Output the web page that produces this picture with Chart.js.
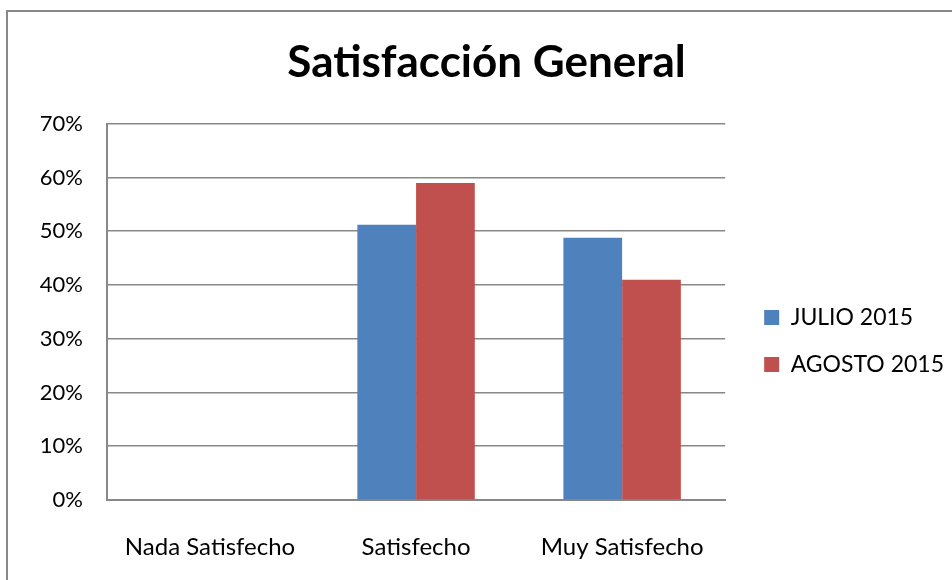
<!DOCTYPE html>
<html>
<head>
<meta charset="utf-8">
<script src="https://cdn.jsdelivr.net/npm/chart.js@4/dist/chart.umd.min.js"></script>
<style>
  html, body { margin: 0; padding: 0; background: #fff; }
  #cadre {
    position: absolute; left: 6px; top: 10px; width: 960px; height: 600px;
    border-left: 2.5px solid #888; border-top: 2.5px solid #888;
  }
  #zone { position: absolute; left: 0; top: 0; width: 952px; height: 580px; }
</style>
</head>
<body>
<div id="cadre"></div>
<div id="zone"><canvas id="graphique"></canvas></div>
<script>
// données du graphique
const categories = ['Nada Satisfecho', 'Satisfecho', 'Muy Satisfecho'];
const julio2015 = [0, 51.2, 48.8];
const agosto2015 = [0, 59, 41];
const ticksY = [0, 10, 20, 30, 40, 50, 60, 70];

const police = 'Lato, "Open Sans", sans-serif';
Chart.defaults.font.family = police;
Chart.defaults.color = '#000';

// décale la légende et le titre à leur place
const placerBlocs = {
    id: 'placerBlocs',
    afterLayout(chart) {
        const lg = chart.legend;
        lg.left += 15; lg.right += 15;
        lg.top += 51; lg.bottom += 51;
        const t = chart.titleBlock;
        t.left += 17; t.right += 17;
    }
};

const ctx = document.getElementById('graphique').getContext('2d');
const monGraphique = new Chart(ctx, {
    type: 'bar',
    data: {
        labels: categories,
        datasets: [{
            label: 'JULIO 2015',
            data: julio2015,
            backgroundColor: '#4F81BD'
        }, {
            label: 'AGOSTO 2015',
            data: agosto2015,
            backgroundColor: '#C0504D'
        }]
    },
    options: {
        responsive: true,
        maintainAspectRatio: false,
        animation: false,
        layout: { padding: { left: 0, right: 13, top: 0, bottom: 0 } },
        datasets: {
            bar: { categoryPercentage: 0.57, barPercentage: 1 }
        },
        plugins: {
            title: {
                display: true,
                text: 'Satisfacción General',
                font: { size: 44, weight: 'bold' },
                color: '#000',
                padding: { top: 36, bottom: 35 }
            },
            legend: {
                position: 'right',
                labels: {
                    boxWidth: 15,
                    boxHeight: 15,
                    padding: 24,
                    font: { size: 23 },
                    color: '#000'
                }
            },
            tooltip: { enabled: false }
        },
        scales: {
            x: {
                grid: { display: false },
                border: { display: true, color: '#888', width: 2 },
                ticks: { font: { size: 24 }, padding: 25, maxRotation: 0 },
                afterFit: s => { s.height = 80; }
            },
            y: {
                min: 0,
                max: 70,
                afterBuildTicks: s => { s.ticks = ticksY.map(v => ({ value: v })); },
                grid: { color: '#888', lineWidth: 1.6, drawTicks: false },
                border: { display: true, color: '#888', width: 2 },
                ticks: {
                    font: { size: 22 },
                    padding: 24,
                    callback: v => v + '%'
                },
                afterFit: s => { s.width = 107; }
            }
        }
    },
    plugins: [placerBlocs]
});
</script>
</body>
</html>
